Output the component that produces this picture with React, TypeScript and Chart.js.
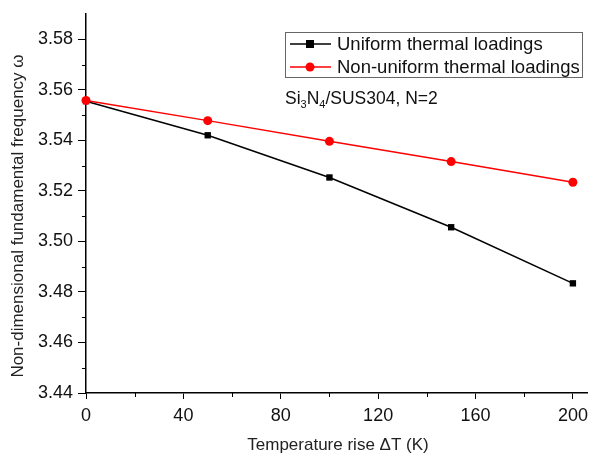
import React, { useEffect, useRef } from "react";
import { Chart, registerables } from "chart.js";

Chart.register(...registerables);

const temps = [0, 50, 100, 150, 200];
const uniform = [3.5555, 3.542, 3.5253, 3.5056, 3.4834];
const nonUniform = [3.5558, 3.5478, 3.5396, 3.5316, 3.5234];
const xTicks = [0, 40, 80, 120, 160, 200];
const xMinor = [20, 60, 100, 140, 180];
const yTicks = [3.44, 3.46, 3.48, 3.5, 3.52, 3.54, 3.56, 3.58];
const yMinor = [3.45, 3.47, 3.49, 3.51, 3.53, 3.55, 3.57];
const seriesNames = ["Uniform thermal loadings", "Non-uniform thermal loadings"];

const FONT = '"Liberation Sans", Arial, sans-serif';

const decorPlugin = {
  id: "decor",
  afterDraw(chart: any) {
    const ctx = chart.ctx;
    const xs = chart.scales.x;
    const ys = chart.scales.y;
    const area = chart.chartArea;
    ctx.save();
    ctx.strokeStyle = "#000";
    ctx.lineWidth = 1;
    // minor ticks
    xMinor.forEach((v) => {
      const px = Math.round(xs.getPixelForValue(v)) + 0.5;
      ctx.beginPath();
      ctx.moveTo(px, area.bottom);
      ctx.lineTo(px, area.bottom + 4);
      ctx.stroke();
    });
    yMinor.forEach((v) => {
      const py = Math.round(ys.getPixelForValue(v)) + 0.5;
      ctx.beginPath();
      ctx.moveTo(area.left - 4, py);
      ctx.lineTo(area.left, py);
      ctx.stroke();
    });

    // axis titles
    ctx.fillStyle = "#222";
    ctx.font = `17px ${FONT}`;
    ctx.textAlign = "center";
    ctx.textBaseline = "middle";
    ctx.fillText("Temperature rise \u0394T (K)", 338, 445);
    ctx.save();
    ctx.translate(18, 216);
    ctx.rotate(-Math.PI / 2);
    ctx.fillText("Non-dimensional fundamental frequency \u03c9", 0, 0);
    ctx.restore();

    // legend
    const lx = 285, ly = 32, lw = 297, lh = 45;
    ctx.strokeStyle = "#666";
    ctx.lineWidth = 1;
    ctx.strokeRect(lx + 0.5, ly + 0.5, lw, lh);
    const rows = [
      { y: 44, color: "#000", shape: "rect", label: seriesNames[0] },
      { y: 67, color: "#ff0000", shape: "circle", label: seriesNames[1] },
    ];
    rows.forEach((r) => {
      ctx.strokeStyle = r.color;
      ctx.fillStyle = r.color;
      ctx.lineWidth = 1.5;
      ctx.beginPath();
      ctx.moveTo(290, r.y);
      ctx.lineTo(331, r.y);
      ctx.stroke();
      if (r.shape === "rect") {
        ctx.fillRect(306, r.y - 4, 8, 8);
      } else {
        ctx.beginPath();
        ctx.arc(310, r.y, 4.5, 0, Math.PI * 2);
        ctx.fill();
      }
      ctx.fillStyle = "#111";
      ctx.font = `18.5px ${FONT}`;
      ctx.textAlign = "left";
      ctx.textBaseline = "middle";
      ctx.fillText(r.label, 337, r.y + 1);
    });

    // annotation Si3N4/SUS304, N=2
    ctx.fillStyle = "#111";
    ctx.textAlign = "left";
    ctx.textBaseline = "alphabetic";
    let x = 285;
    const base = 104;
    const parts: [string, boolean][] = [
      ["Si", false],
      ["3", true],
      ["N", false],
      ["4", true],
      ["/SUS304, N=2", false],
    ];
    parts.forEach(([t, sub]) => {
      ctx.font = sub ? `11px ${FONT}` : `17.5px ${FONT}`;
      ctx.fillText(t, x, sub ? base + 4 : base);
      x += ctx.measureText(t).width;
    });
    ctx.restore();
  },
};

export default function App() {
  const ref = useRef<HTMLCanvasElement>(null);
  useEffect(() => {
    const canvas = ref.current;
    if (!canvas) return;
    const chart = new Chart(canvas, {
      type: "line",
      data: {
        datasets: [
          {
            label: seriesNames[0],
            data: temps.map((t, i) => ({ x: t, y: uniform[i] })),
            borderColor: "#000",
            backgroundColor: "#000",
            borderWidth: 1.5,
            pointStyle: "rect",
            pointRadius: 4.5,
            pointBorderWidth: 0,
            order: 1,
            clip: false as any,
          },
          {
            label: seriesNames[1],
            data: temps.map((t, i) => ({ x: t, y: nonUniform[i] })),
            borderColor: "#ff0000",
            backgroundColor: "#ff0000",
            borderWidth: 1.5,
            pointStyle: "circle",
            pointRadius: 4.5,
            pointBorderWidth: 0,
            order: 0,
            clip: false as any,
          },
        ],
      },
      options: {
        responsive: false,
        animation: false,
        layout: { padding: { top: 14, right: 2, left: 0, bottom: 0 } },
        plugins: { legend: { display: false }, tooltip: { enabled: false } },
        scales: {
          x: {
            type: "linear",
            min: 0,
            max: 206,
            afterBuildTicks: (s: any) => {
              s.ticks = xTicks.map((v) => ({ value: v }));
            },
            afterFit: (s: any) => {
              s.height = 63;
              s.paddingLeft = 0;
              s.paddingRight = 0;
            },
            grid: {
              drawOnChartArea: false,
              drawTicks: true,
              tickLength: 6,
              color: "#000",
            },
            border: { display: true, color: "#000", width: 1.5 },
            ticks: {
              color: "#111",
              font: { family: FONT, size: 18 },
              padding: 6,
              maxRotation: 0,
              autoSkip: false,
            },
          },
          y: {
            type: "linear",
            min: 3.44,
            max: 3.59,
            afterBuildTicks: (s: any) => {
              s.ticks = yTicks.map((v) => ({ value: v }));
            },
            afterFit: (s: any) => {
              s.width = 86;
              s.paddingTop = 0;
              s.paddingBottom = 0;
            },
            grid: {
              drawOnChartArea: false,
              drawTicks: true,
              tickLength: 8,
              color: "#000",
            },
            border: { display: true, color: "#000", width: 1.5 },
            ticks: {
              color: "#111",
              font: { family: FONT, size: 18 },
              padding: 5,
              autoSkip: false,
              callback: (v: any) => Number(v).toFixed(2),
            },
          },
        },
      },
      plugins: [decorPlugin],
    } as any);
    return () => chart.destroy();
  }, []);
  return (
    <div style={{ position: "fixed", left: 0, top: 0, width: 592, height: 456, background: "#fff" }}>
      <canvas ref={ref} width={592} height={456} style={{ width: 592, height: 456 }} />
    </div>
  );
}
